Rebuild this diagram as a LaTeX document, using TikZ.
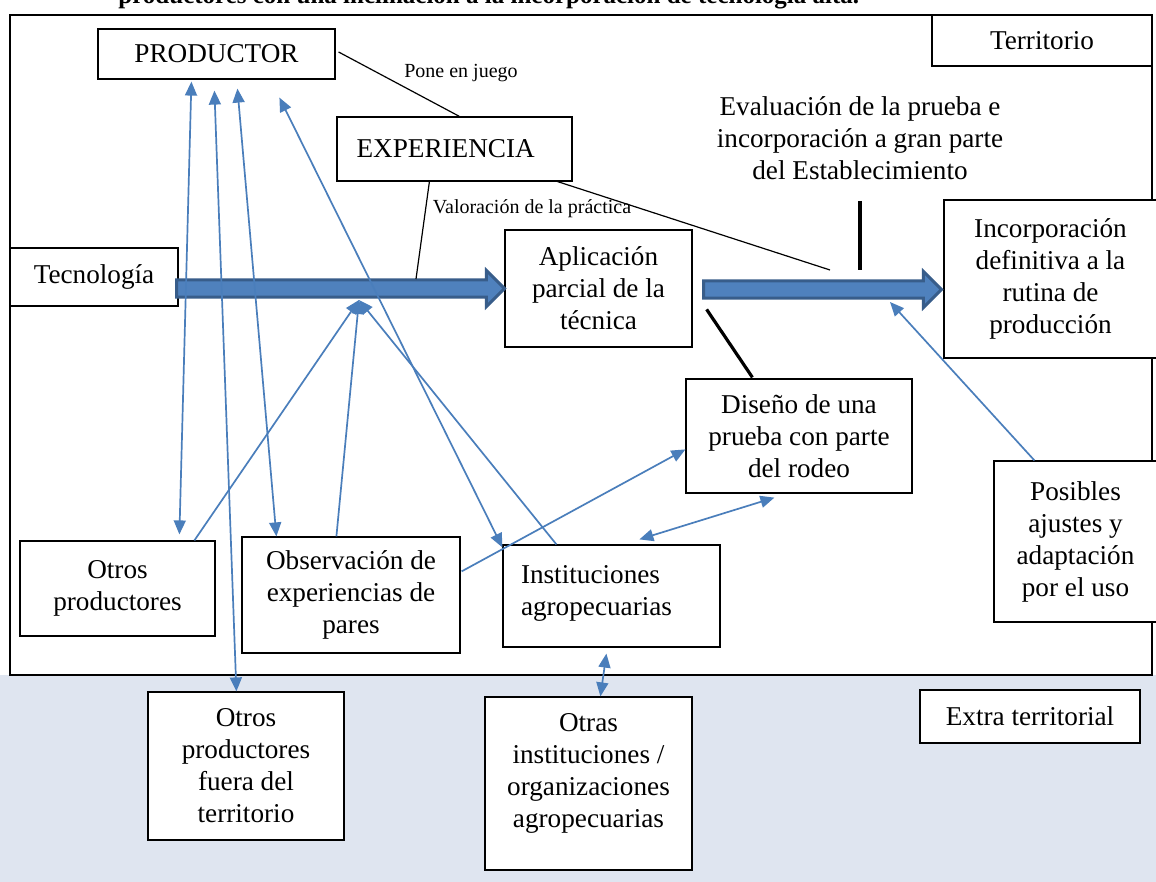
\documentclass[tikz,border=0pt]{standalone}
\usepackage{fontspec}
\setmainfont{Liberation Serif}
\usetikzlibrary{arrows.meta,calc}
\definecolor{lnblue}{HTML}{4A7EBB}
\definecolor{arrfill}{HTML}{4F81BD}
\definecolor{arrdark}{HTML}{385D8A}
\definecolor{bgblue}{HTML}{DFE5F0}
\begin{document}
\begin{tikzpicture}[x=0.5pt,y=-0.5pt,
  box/.style={draw=black, line width=0.6pt, fill=white, inner sep=0pt, align=center, font=\fontsize{13.6}{16}\selectfont},
  plain/.style={inner sep=0pt, align=center, font=\fontsize{13.6}{16}\selectfont},
  small/.style={inner sep=0pt, font=\fontsize{10}{12}\selectfont},
  bl/.style={draw=lnblue, line width=0.85pt},
  bla/.style={bl, -{Triangle[length=7pt,width=6pt]}},
  blb/.style={bl, {Triangle[length=7pt,width=6pt]}-{Triangle[length=7pt,width=6pt]}},
  blk/.style={draw=black, line width=0.6pt},
  blkthick/.style={draw=black, line width=1.6pt},
  bigarrow/.style={fill=arrfill, draw=arrdark, line width=1.5pt, line join=miter}
]
\useasboundingbox (0,0) rectangle (1156,882);
% background
\fill[white] (0,0) rectangle (1156,882);
\fill[bgblue] (0,675) rectangle (1156,882);
\draw[fill=white, line width=0.8pt] (10,15) rectangle (1152,675);
\node[anchor=base west, inner sep=0pt, font=\bfseries\fontsize{12.5}{15}\selectfont] (cut) at (118,4) {productores con una inclinación a la incorporación de tecnología alta.};

% nodes
\node[box, minimum width=118.5pt, minimum height=25pt] (prod) at (216.5,54) {PRODUCTOR};
\node[box, minimum width=117.5pt, minimum height=32pt, text width=104pt, inner xsep=6.75pt, align=left] (exper) at (454.5,149) {\hspace*{3pt}EXPERIENCIA};
\node[box, minimum width=84pt, minimum height=29pt] (tec) at (94,277) {Tecnología};
\node[box, minimum width=93.5pt, minimum height=58.5pt] (apl) at (598.5,288.5) {Aplicación\\parcial de la\\técnica};
\node[box, minimum width=106.5pt, minimum height=79pt] (inc) at (1050.5,279) {Incorporación\\definitiva a la\\rutina de\\producción};
\node[box, minimum width=110pt, minimum height=25.5pt] (terr) at (1042,40.5) {Territorio};
\node[plain] (eval) at (860,138) {Evaluación de la prueba e\\incorporación a gran parte\\del Establecimiento};
\node[box, minimum width=113pt, minimum height=57pt] (dis) at (799,436) {Diseño de una\\prueba con parte\\del rodeo};
\node[box, minimum width=81.5pt, minimum height=80.5pt] (pos) at (1075.5,541.5) {Posibles\\ajustes y\\adaptación\\por el uso};
\node[box, minimum width=97.5pt, minimum height=47.5pt] (otp) at (117.5,588.5) {Otros\\productores};
\node[box, minimum width=109pt, minimum height=58pt] (obs) at (351,595) {Observación de\\experiencias de\\pares};
\node[box, minimum height=51pt, text width=90.5pt, inner xsep=9pt, align=left] (ins) at (611.5,596) {Instituciones\\agropecuarias\\[-10pt]\mbox{}};
\node[box, minimum width=98pt, minimum height=74pt] (opf) at (246,766) {Otros\\productores\\fuera del\\territorio};
\node[box, minimum width=103.5pt, minimum height=86.5pt] (oin) at (588.5,783.5) {Otras\\instituciones /\\organizaciones\\agropecuarias\\[-3pt]\mbox{}};
\node[box, minimum width=110pt, minimum height=26.5pt] (ext) at (1030,716.5) {Extra territorial};

\node[small] (pone) at (461,73) {Pone en juego};
\node[small] (valor) at (532,209) {Valoración de la práctica};

% thick arrows
\coordinate (a1s) at (tec.east |- apl.west);
\path[bigarrow] ($(a1s)+(-2,-8.5)$) -- ($(apl.west)+(-18,-8.5)$) -- ($(apl.west)+(-18,-18)$) -- (apl.west) -- ($(apl.west)+(-18,18)$) -- ($(apl.west)+(-18,8.5)$) -- ($(a1s)+(-2,8.5)$) -- cycle;
\coordinate (a2s) at ($(apl.east)+(11,1)$);
\coordinate (a2e) at ($(inc.west |- a2s)+(-2,0)$);
\path[bigarrow] ($(a2s)+(0,-8.5)$) -- ($(a2e)+(-18,-8.5)$) -- ($(a2e)+(-18,-18)$) -- (a2e) -- ($(a2e)+(-18,18)$) -- ($(a2e)+(-18,8.5)$) -- ($(a2s)+(0,8.5)$) -- cycle;

% free ends
\coordinate (valo) at (416,279);
\coordinate (evl) at (830,270);
\coordinate (vtop) at (860,201);
\coordinate (vbot) at (860,270);
\coordinate (conv) at (359,300);
\coordinate (adj) at (890,302);

% black lines
\draw[blk] ($(prod.east)+(3,-2)$) -- ($(exper.north west)+(123,0)$);
\draw[blk] ($(exper.south west)+(93,0)$) -- (valo);
\draw[blk] ($(exper.south east)+(-15,0)$) -- (evl);
\draw[blkthick, line width=2pt] (vtop) -- (vbot);
\draw[blkthick] ($(apl.north east)+(14,80)$) -- ($(dis.north west)+(67,-1)$);

% blue connectors
\draw[blb] ($(prod.south west)+(94,2)$) -- ($(otp.north west)+(160,-6)$);
\draw[blb] ($(prod.south west)+(117,11)$) -- ($(opf.north west)+(89,0)$);
\draw[blb] ($(prod.south west)+(140,9)$) -- ($(obs.north west)+(35,0)$);
\draw[blb] ($(prod.south west)+(182,18)$) -- ($(ins.north west)+(0,3)$);
\draw[bla] ($(otp.north west)+(175,0)$) -- (conv);
\draw[bla] ($(obs.north west)+(95,0)$) -- (conv);
\draw[bla] ($(ins.north west)+(54,0)$) -- (conv);
\draw[bla] ($(obs.north east)+(1,35)$) -- ($(dis.north west)+(0,71)$);
\draw[blb] ($(ins.north west)+(137,-5)$) -- ($(dis.south west)+(89,4)$);
\draw[blb] ($(ins.south west)+(104,6)$) -- ($(oin.north west)+(116,0)$);
\draw[bla] ($(pos.north west)+(41,0)$) -- (adj);
\end{tikzpicture}
\end{document}
